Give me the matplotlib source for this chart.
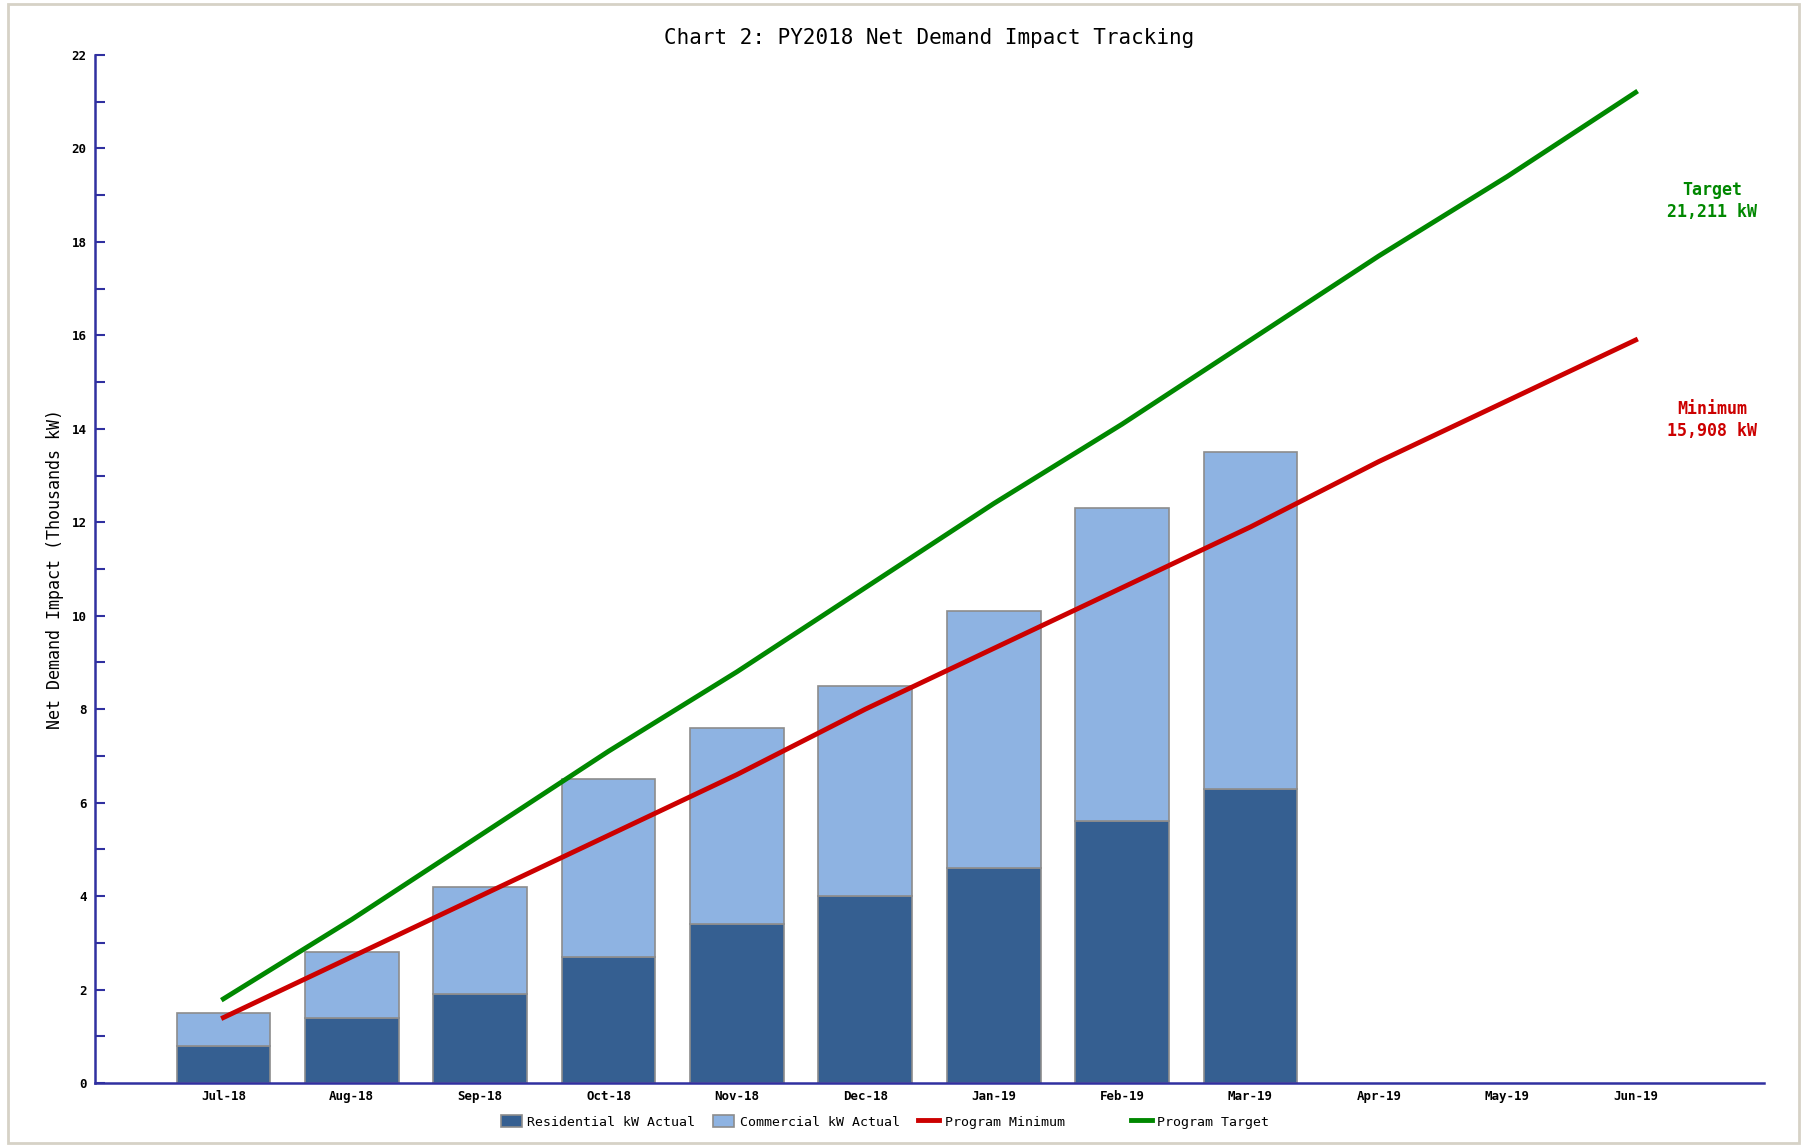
import numpy as np
import matplotlib.pyplot as plt
from matplotlib.patches import Rectangle

months = ['Jul-18', 'Aug-18', 'Sep-18', 'Oct-18', 'Nov-18', 'Dec-18',
          'Jan-19', 'Feb-19', 'Mar-19', 'Apr-19', 'May-19', 'Jun-19']
residential = [0.8, 1.4, 1.9, 2.7, 3.4, 4.0, 4.6, 5.6, 6.3]
commercial = [0.7, 1.4, 2.3, 3.8, 4.2, 4.5, 5.5, 6.7, 7.2]
program_min = [1.4, 2.7, 4.0, 5.3, 6.6, 8.0, 9.3, 10.6, 11.9, 13.3, 14.6, 15.9]
program_target = [1.8, 3.5, 5.3, 7.1, 8.8, 10.6, 12.4, 14.1, 15.9, 17.7, 19.4, 21.2]

plt.rcParams['font.family'] = ['DejaVu Sans Mono']

fig = plt.figure(figsize=(18.02, 11.47), dpi=100)
ax = fig.add_axes([95 / 1802, 1 - 1083 / 1147, (1764 - 95) / 1802, (1083 - 55) / 1147])

x = np.arange(len(residential))
xl = np.arange(len(months))
b1 = ax.bar(x, residential, width=0.73, color='#355f91', edgecolor='#8c8c8c', linewidth=1.2,
            label='Residential kW Actual', zorder=2)
b2 = ax.bar(x, commercial, width=0.73, bottom=residential, color='#8eb3e2', edgecolor='#8c8c8c',
            linewidth=1.2, label='Commercial kW Actual', zorder=2)
l1, = ax.plot(xl, program_min, color='#cc0000', linewidth=3.5, label='Program Minimum', zorder=3)
l2, = ax.plot(xl, program_target, color='#008800', linewidth=3.5, label='Program Target', zorder=3)

ax.set_xlim(-1, 12)
ax.set_ylim(0, 22)
ax.set_yticks(np.arange(0, 23, 2))
ax.set_yticks(np.arange(0, 23, 1), minor=True)
ax.set_xticks(xl)
ax.set_xticklabels(months, fontsize=9, fontweight='bold')
for lab in ax.get_yticklabels():
    lab.set_fontsize(9)
    lab.set_fontweight('bold')

for s in ['top', 'right']:
    ax.spines[s].set_visible(False)
for s in ['left', 'bottom']:
    ax.spines[s].set_color('#3030a0')
    ax.spines[s].set_linewidth(1.8)
ax.tick_params(axis='y', which='both', direction='in', color='#3030a0', width=1.5, pad=6,
               length=7)
ax.tick_params(axis='x', length=0, pad=5)

ax.set_ylabel('Net Demand Impact (Thousands kW)', fontsize=12)
ax.yaxis.set_label_coords(-0.0186, 0.5)
ax.set_title('Chart 2: PY2018 Net Demand Impact Tracking', fontsize=15, pad=8)

fig.text(1712 / 1802, 1 - 201 / 1147, 'Target\n21,211 kW', color='#008800', fontsize=12,
         fontweight='bold', ha='center', va='center', linespacing=1.3)
fig.text(1712 / 1802, 1 - 420 / 1147, 'Minimum\n15,908 kW', color='#cc0000', fontsize=12,
         fontweight='bold', ha='center', va='center', linespacing=1.3)

handles = [b1, b2, l1, l2]
labels = ['Residential kW Actual', 'Commercial kW Actual', 'Program Minimum      ',
          'Program Target']
fig.legend(handles, labels, loc='center', bbox_to_anchor=(885 / 1802, 1 - 1122 / 1147),
           ncol=4, frameon=False, fontsize=9.5, handlelength=1.6, handleheight=1.0,
           columnspacing=1.4, handletextpad=0.4)

fig.patches.append(Rectangle((8 / 1802, 4 / 1147), 1791 / 1802, 1139 / 1147,
                             transform=fig.transFigure, fill=False, edgecolor='#d6d2c6',
                             linewidth=2))

fig.savefig('out.png', dpi=100)
